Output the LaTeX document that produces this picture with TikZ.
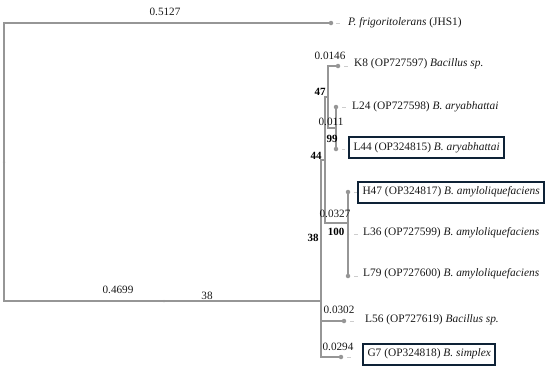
\documentclass[tikz,border=0pt]{standalone}
\usepackage{fontspec}
\setmainfont{Liberation Serif}
\definecolor{treegray}{RGB}{150,150,150}
\definecolor{dashgray}{RGB}{205,205,205}
\definecolor{navy}{RGB}{14,34,54}
\definecolor{txt}{RGB}{25,25,25}
\begin{document}
\begin{tikzpicture}[x=1pt,y=-1pt,
  br/.style={draw=treegray, line width=2.1pt, line cap=rect},
  dot/.style={circle, fill=treegray, inner sep=0pt, minimum size=4.5pt},
  tinydot/.style={circle, fill=treegray, inner sep=0pt, minimum size=2.5pt},
  dsh/.style={draw=dashgray, line width=0.8pt},
  leaf/.style={anchor=west, inner sep=0pt, text=txt, font=\fontsize{11.4}{13}\selectfont},
  boxleaf/.style={anchor=west, draw=navy, line width=2pt, inner xsep=4.5pt, minimum height=21pt, text=txt, font=\fontsize{11.4}{13}\selectfont},
  blen/.style={inner sep=0pt, text=txt, font=\fontsize{11.2}{12}\selectfont},
  boot/.style={inner sep=0pt, text=black, font=\fontsize{11}{12}\selectfont\bfseries}]
\useasboundingbox (0,0) rectangle (550,376);
% tree coordinates
\coordinate (rtop) at (4,23);
\coordinate (rbot) at (4,301);
\coordinate (n38) at (321,301);
\coordinate (n38top) at (321,160);
\coordinate (n38bot) at (321,357);
\coordinate (n38mid) at (321,321);
\coordinate (n44) at (325,160);
\coordinate (n44top) at (325,97);
\coordinate (n44bot) at (325,223);
\coordinate (n47) at (328,97);
\coordinate (n47top) at (328,66);
\coordinate (n47bot) at (328,128);
\coordinate (n99) at (336,128);
\coordinate (n100) at (348,223);
% leaf dots
\node[dot] (pf) at (331,23) {};
\node[dot] (k8) at (338,66) {};
\node[dot] (l24) at (336,107) {};
\node[dot] (l44) at (336,149) {};
\node[dot] (h47) at (348,192) {};
\node[tinydot] (l36) at (348,234) {};
\node[dot] (l79) at (348,276) {};
\node[dot] (l56) at (344,321) {};
\node[dot] (g7) at (341,357) {};
\node[tinydot] (root) at (4,162) {};
\node[tinydot] (mid) at (164,301) {};
% branches
\draw[br] (rtop) -- (rbot);
\draw[br] (rtop) -- (pf.center);
\draw[br] (rbot) -- (n38);
\draw[br] (n38top) -- (n38bot);
\draw[br] (n38top) -- (n44);
\draw[br] (n44top) -- (n44bot);
\draw[br] (n44top) -- (n47);
\draw[br] (n47top) -- (n47bot);
\draw[br] (n47top) -- (k8.center);
\draw[br] (n47bot) -- (n99);
\draw[br] (l24.center) -- (l44.center);
\draw[br] (n44bot) -- (n100);
\draw[br] (h47.center) -- (l79.center);
\draw[br] (n38mid) -- (l56.center);
\draw[br] (n38bot) -- (g7.center);
% leaf labels
\node[leaf] (tpf) at (348,23) {\textit{P. frigoritolerans} (JHS1)};
\node[leaf] (tk8) at (354,64) {K8 (OP727597) \textit{Bacillus sp.}};
\node[leaf] (tl24) at (352,107) {L24 (OP727598) \textit{B. aryabhattai}};
\node[boxleaf] (tl44) at (348,147.5) {L44 (OP324815) \textit{B. aryabhattai}};
\node[boxleaf] (th47) at (357,192) {H47 (OP324817) \textit{B. amyloliquefaciens}};
\node[leaf] (tl36) at (363,233) {L36 (OP727599) \textit{B. amyloliquefaciens}};
\node[leaf] (tl79) at (363,274) {L79 (OP727600) \textit{B. amyloliquefaciens}};
\node[leaf] (tl56) at (365,320) {L56 (OP727619) \textit{Bacillus sp.}};
\node[boxleaf] (tg7) at (362,354) {G7 (OP324818) \textit{B. simplex}};
% small dashes between dots and labels
\draw[dsh] ([xshift=5pt]pf.center) -- ([xshift=9pt]pf.center);
\draw[dsh] ([xshift=6pt]k8.center) -- ([xshift=10pt]k8.center);
\draw[dsh] ([xshift=6pt]l24.center) -- ([xshift=10pt]l24.center);
\draw[dsh] ([xshift=6pt]h47.center) -- ([xshift=9pt]h47.center);
\draw[dsh] ([xshift=6pt]l36.center) -- ([xshift=10pt]l36.center);
\draw[dsh] ([xshift=6pt]l79.center) -- ([xshift=10pt]l79.center);
\draw[dsh] ([xshift=6pt]l56.center) -- ([xshift=10pt]l56.center);
\draw[dsh] ([xshift=6pt]g7.center) -- ([xshift=10pt]g7.center);
\draw[dsh] ([xshift=6pt]l44.center) -- ([xshift=9pt]l44.center);
% branch lengths
\node[blen] (b1) at (165,12) {0.5127};
\node[blen] (b2) at (330,56) {0.0146};
\node[blen] (b3) at (331,122) {0.011};
\node[blen] (b4) at (335,214) {0.0327};
\node[blen] (b5) at (118,290) {0.4699};
\node[blen] (b6) at (339,310) {0.0302};
\node[blen] (b7) at (338,347) {0.0294};
% bootstrap values
\node[boot] (s47) at (320,92) {47};
\node[boot] (s99) at (332,139) {99};
\node[boot] (s44) at (316,156) {44};
\node[boot] (s100) at (336,232) {100};
\node[boot] (s38a) at (313,238) {38};
\node[blen] (s38b) at (207,296) {38};
\end{tikzpicture}
\end{document}
